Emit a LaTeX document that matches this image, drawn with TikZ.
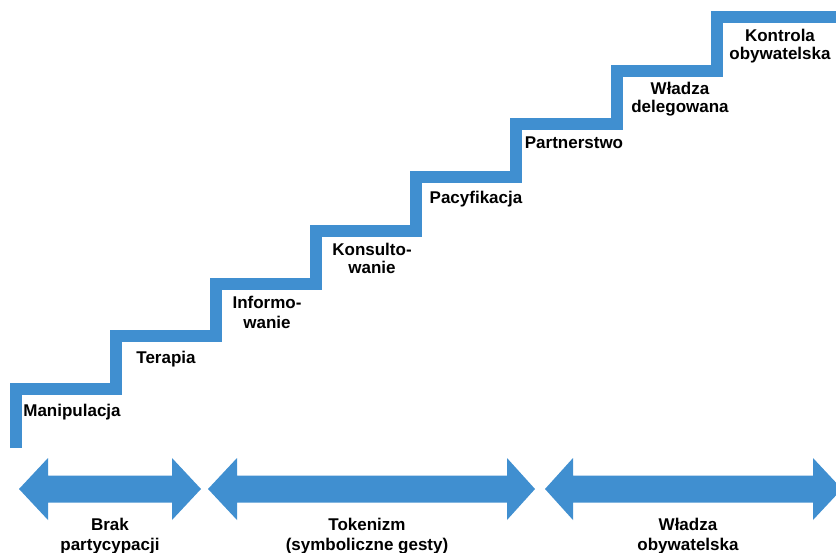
\documentclass[tikz,border=0pt]{standalone}
\usepackage{fontspec}
\setmainfont{Liberation Sans}
\begin{document}
\begin{tikzpicture}[x=1pt,y=-1pt,
  stair/.style={draw=stairblue,line width=12pt,line cap=butt,line join=miter},
  darrow/.style={fill=stairblue,draw=none},
  lbl/.style={font=\fontsize{17}{20}\selectfont\bfseries,align=center,inner sep=0pt,anchor=base},
  lbltight/.style={lbl,font=\fontsize{17}{18}\selectfont\bfseries}]
\definecolor{stairblue}{RGB}{64,143,208}
\useasboundingbox (0,0) rectangle (836,552);
\begin{scope}
\clip (0,0) rectangle (836,552);
% staircase
\draw[stair] (16,448) -- (16,389) -- (116,389) -- (116,336) -- (216,336) -- (216,284)
  -- (316,284) -- (316,231) -- (416,231) -- (416,177) -- (516,177) -- (516,124)
  -- (617,124) -- (617,71) -- (717,71) -- (717,17) -- (840,17);
% double arrows
\fill[darrow] (19,489) -- (48,458) -- (48,475.5) -- (172,475.5) -- (172,458) -- (201,489)
  -- (172,520) -- (172,502.5) -- (48,502.5) -- (48,520) -- cycle;
\fill[darrow] (208,489) -- (237,458) -- (237,475.5) -- (507,475.5) -- (507,458) -- (535,489)
  -- (507,520) -- (507,502.5) -- (237,502.5) -- (237,520) -- cycle;
\fill[darrow] (545,489) -- (573,458) -- (573,475.5) -- (813,475.5) -- (813,458) -- (842,489)
  -- (813,520) -- (813,502.5) -- (573,502.5) -- (573,520) -- cycle;
% step labels
\node[lbl] (manip) at (72,416) {Manipulacja};
\node[lbl] (terap) at (166,363) {Terapia};
\node[lbl] (infor) at (267,328) {Informo-\\wanie};
\node[lbltight] (konsu) at (372,273) {Konsulto-\\wanie};
\node[lbltight] (pacyf) at (476,203) {Pacyfikacja};
\node[lbl] (partn) at (574,148) {Partnerstwo};
\node[lbltight] (wladz) at (680,112) {Władza\\delegowana};
\node[lbltight] (kontr) at (780,59) {Kontrola\\obywatelska};
% group labels
\node[lbl] (brak) at (110,550) {Brak\\partycypacji};
\node[lbl] (token) at (367,550) {Tokenizm\\(symboliczne gesty)};
\node[lbl] (wlobyw) at (688,550) {Władza\\obywatelska};
\end{scope}
\end{tikzpicture}
\end{document}
